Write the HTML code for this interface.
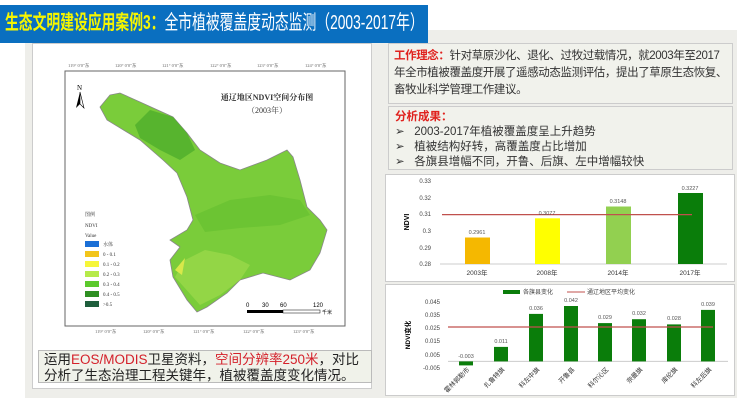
<!DOCTYPE html>
<html><head><meta charset="utf-8"><style>
*{margin:0;padding:0;box-sizing:border-box}
body{width:739px;height:400px;background:#fff;position:relative;overflow:hidden;font-family:"Liberation Sans","Noto Sans CJK SC",sans-serif}
.abs{position:absolute}
</style></head><body>
<div class="abs" style="left:25px;top:30px;width:712px;height:368px;background:#eeeeea"></div>
<div class="abs" style="left:0;top:5px;width:428px;height:38px;background:#0a6fc0"></div>
<div class="abs" style="left:5px;top:9px;font-size:20px;color:#fff;white-space:nowrap;line-height:28px;transform:scaleX(0.69);transform-origin:0 0"><b style="color:#f5f500">生态文明建设应用案例3：</b>全市植被覆盖度动态监测（2003-2017年）</div>

<div class="abs" style="left:32px;top:43px;width:340px;height:346px;background:#fff;border:1px solid #ccc"></div>
<svg class="abs" style="left:0;top:0" width="380" height="400">
<rect x="65" y="71" width="280" height="255" fill="#fff" stroke="#666" stroke-width="1"/>
<g font-size="4.5" fill="#666" font-family="Liberation Serif">
<text x="68" y="67">119° 0′0″东</text><text x="115" y="67">120° 0′0″东</text><text x="162" y="67">121° 0′0″东</text><text x="210" y="67">122° 0′0″东</text><text x="257" y="67">123° 0′0″东</text><text x="305" y="67">124° 0′0″东</text>
<text x="95" y="333">119° 0′0″东</text><text x="143" y="333">120° 0′0″东</text><text x="193" y="333">121° 0′0″东</text><text x="243" y="333">122° 0′0″东</text><text x="293" y="333">123° 0′0″东</text>
</g>
<polygon fill="#7acc3a" stroke="#888" stroke-width="0.8" points="110,95 120,93 140,102 173,117 187,133 200,150 220,163 240,170 267,160 287,150 293,157 300,180 307,207 320,220 327,230 320,253 310,270 290,280 263,273 240,280 227,293 207,307 197,312 187,300 173,277 170,260 180,247 170,240 187,230 193,220 187,197 177,173 163,160 140,140 107,120 100,107"/>
<polygon fill="#4fae2c" opacity="0.8" points="150,110 173,117 187,133 195,150 180,160 160,150 140,138 135,125"/>
<polygon fill="#66c030" opacity="0.7" points="195,215 230,200 270,195 300,200 310,215 280,225 240,228 205,232"/>
<polygon fill="#9ad84a" opacity="0.8" points="175,277 185,260 205,250 230,255 250,265 240,280 220,295 200,305"/>
<polygon fill="#d8e84a" points="175,270 185,258 182,275"/>
<g transform="translate(80,100)"><path d="M0,-8 L-4,8 L0,4 Z" fill="#000"/><path d="M0,-8 L4,8 L0,4 Z" fill="#fff" stroke="#000" stroke-width="0.6"/><text x="-3" y="-10" font-size="7" font-family="Liberation Serif">N</text></g>
<text x="267" y="100" font-size="8" text-anchor="middle" font-family="Liberation Serif,Noto Serif CJK SC,serif" font-weight="bold" fill="#333">通辽地区NDVI空间分布图</text>
<text x="267" y="113" font-size="8" text-anchor="middle" font-family="Liberation Serif,Noto Serif CJK SC,serif" fill="#333">（2003年）</text>
<g font-size="5" font-family="Liberation Serif,Noto Serif CJK SC,serif" fill="#333">
<text x="85" y="216">图例</text><text x="85" y="227">NDVI</text><text x="85" y="237">Value</text>
<rect x="85" y="241" width="14" height="6" fill="#1b6fd6"/><text x="103" y="246">水体</text>
<rect x="85" y="251" width="14" height="6" fill="#f2c51b"/><text x="103" y="256">0 - 0.1</text>
<rect x="85" y="261" width="14" height="6" fill="#f6f63a"/><text x="103" y="266">0.1 - 0.2</text>
<rect x="85" y="271" width="14" height="6" fill="#b6ea4a"/><text x="103" y="276">0.2 - 0.3</text>
<rect x="85" y="281" width="14" height="6" fill="#5cc92c"/><text x="103" y="286">0.3 - 0.4</text>
<rect x="85" y="291" width="14" height="6" fill="#2e8f22"/><text x="103" y="296">0.4 - 0.5</text>
<rect x="85" y="301" width="14" height="6" fill="#1e5e3c"/><text x="103" y="306">&gt;0.5</text>
</g>
<g font-size="6" fill="#000"><text x="246" y="307">0</text><text x="262" y="307">30</text><text x="280" y="307">60</text><text x="313" y="307">120</text><text x="322" y="314" font-size="5">千米</text></g>
<rect x="247" y="310" width="36" height="3" fill="#000"/><rect x="283" y="310" width="37" height="3" fill="#fff" stroke="#000" stroke-width="0.5"/>
</svg>
<div class="abs" style="left:38px;top:350px;width:334px;height:33px;background:#f0f2ea;border:1px solid #bbb;font-size:13.5px;line-height:16px;padding:1px 0 0 5px;color:#222;white-space:nowrap">运用<span style="color:#d4202a">EOS/MODIS</span>卫星资料，<span style="color:#d4202a">空间分辨率250米</span>，对比<br>分析了生态治理工程关键年，植被覆盖度变化情况。</div>

<div class="abs" style="left:388px;top:43px;width:345px;height:61px;background:#f1f2ec;border:1px solid #ccc;font-size:11.5px;line-height:17px;padding:4px 4px 4px 5px;color:#333;letter-spacing:-0.4px">
<b style="color:#e0221e">工作理念：</b>针对草原沙化、退化、过牧过载情况，就2003年至2017年全市植被覆盖度开展了遥感动态监测评估，提出了草原生态恢复、畜牧业科学管理工作建议。</div>
<div class="abs" style="left:388px;top:106px;width:345px;height:64px;background:#f1f2ec;border:1px solid #ccc;font-size:11.5px;line-height:15px;padding:3px 6px;color:#333">
<b style="color:#e0221e">分析成果：</b><br>➢&nbsp;&nbsp;&nbsp;2003-2017年植被覆盖度呈上升趋势<br>➢&nbsp;&nbsp;&nbsp;植被结构好转，高覆盖度占比增加<br>➢&nbsp;&nbsp;&nbsp;各旗县增幅不同，开鲁、后旗、左中增幅较快</div>

<div class="abs" style="left:385px;top:174px;width:350px;height:108px;background:#fff;border:1px solid #ccc"></div>
<div class="abs" style="left:385px;top:284px;width:350px;height:112px;background:#fff;border:1px solid #ccc"></div>
<svg class="abs" style="left:0;top:0" width="739" height="400" font-family="Liberation Sans,Noto Sans CJK SC,sans-serif">
<g font-size="6" fill="#444" text-anchor="end">
<text x="431" y="183">0.33</text><text x="431" y="200">0.32</text><text x="431" y="216">0.31</text><text x="431" y="233">0.3</text><text x="431" y="250">0.29</text><text x="431" y="266">0.28</text></g>
<text x="409" y="222" font-size="7" font-weight="bold" transform="rotate(-90 409 222)" text-anchor="middle">NDVI</text>
<line x1="440" y1="264" x2="727" y2="264" stroke="#ccc"/>
<rect x="465" y="237.5" width="25" height="26.5" fill="#f5b800"/>
<rect x="535" y="218.3" width="25" height="45.7" fill="#ffff00"/>
<rect x="606" y="206.5" width="25" height="57.5" fill="#92d050"/>
<rect x="678" y="193" width="25" height="71" fill="#0a7d0a"/>
<line x1="442" y1="214.6" x2="692" y2="214.6" stroke="#c0504d" stroke-width="1.2"/>
<g font-size="5.5" fill="#555" text-anchor="middle">
<text x="477" y="234">0.2961</text><text x="547" y="215">0.3077</text><text x="618" y="203">0.3148</text><text x="690" y="190">0.3227</text></g>
<g font-size="6.5" fill="#333" text-anchor="middle"><text x="477" y="275">2003年</text><text x="547" y="275">2008年</text><text x="618" y="275">2014年</text><text x="690" y="275">2017年</text></g>

<rect x="503" y="290" width="17" height="4" fill="#0a7d0a"/><text x="523" y="294" font-size="6" fill="#444">各旗县变化</text>
<line x1="567" y1="292" x2="585" y2="292" stroke="#c0504d"/><text x="587" y="294" font-size="6" fill="#444">通辽地区平均变化</text>
<g font-size="6" fill="#444" text-anchor="end">
<text x="440" y="304">0.045</text><text x="440" y="317">0.035</text><text x="440" y="330">0.025</text><text x="440" y="343">0.015</text><text x="440" y="357">0.005</text><text x="440" y="370">-0.005</text></g>
<text x="410" y="335" font-size="6.5" font-weight="bold" transform="rotate(-90 410 335)" text-anchor="middle">NDVI变化</text>
<line x1="448" y1="361.4" x2="728" y2="361.4" stroke="#ccc"/>
<g fill="#0a7d0a">
<rect x="459" y="361.4" width="14" height="4"/>
<rect x="494" y="346.9" width="14" height="14.5"/>
<rect x="529" y="313.9" width="14" height="47.5"/>
<rect x="564" y="306" width="14" height="55.4"/>
<rect x="598" y="323.1" width="14" height="38.3"/>
<rect x="632" y="319.2" width="14" height="42.2"/>
<rect x="667" y="324.4" width="14" height="37"/>
<rect x="701" y="309.9" width="14" height="51.5"/></g>
<line x1="448" y1="327" x2="713" y2="327" stroke="#c0504d" stroke-width="1.2"/>
<g font-size="5.5" fill="#555" text-anchor="middle">
<text x="466" y="358">-0.003</text><text x="501" y="343">0.011</text><text x="536" y="310">0.036</text><text x="571" y="302">0.042</text><text x="605" y="319">0.029</text><text x="639" y="315">0.032</text><text x="674" y="320">0.028</text><text x="708" y="306">0.039</text></g>
<g font-size="6.5" fill="#333" text-anchor="end">
<text transform="translate(470,370) rotate(-45)">霍林郭勒市</text>
<text transform="translate(505,370) rotate(-45)">扎鲁特旗</text>
<text transform="translate(540,370) rotate(-45)">科左中旗</text>
<text transform="translate(575,370) rotate(-45)">开鲁县</text>
<text transform="translate(609,370) rotate(-45)">科尔沁区</text>
<text transform="translate(643,370) rotate(-45)">奈曼旗</text>
<text transform="translate(678,370) rotate(-45)">库伦旗</text>
<text transform="translate(712,370) rotate(-45)">科左后旗</text></g>
</svg>
</body></html>
